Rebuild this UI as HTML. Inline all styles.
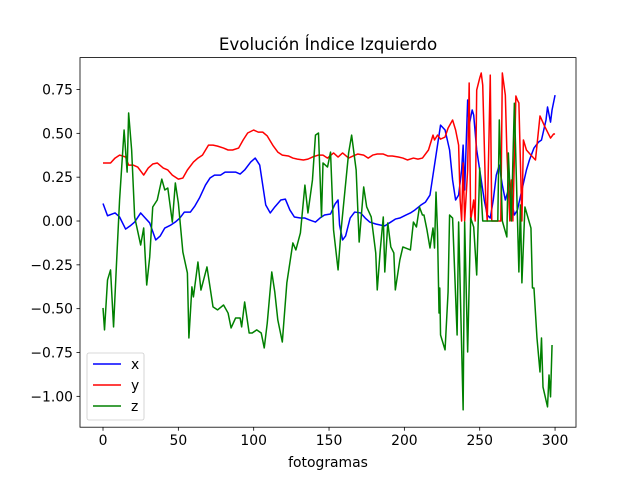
<!DOCTYPE html>
<html><head><meta charset="utf-8"><style>
body{margin:0;background:#fff;}
svg text{font-family:"DejaVu Sans","Liberation Sans",sans-serif;fill:#000;}
</style></head><body>
<svg id="chart" width="640" height="480" xmlns="http://www.w3.org/2000/svg">
<rect width="640" height="480" fill="#fff"/>
<text x="328" y="50" text-anchor="middle" font-size="16.7">Evolución Índice Izquierdo</text>
<g id="plot"></g>
<g id="ticks"></g>
<text x="328" y="467" text-anchor="middle" font-size="13.9">fotogramas</text>
<g id="legend"></g>
</svg>
<script>
const xTicks=[0,50,100,150,200,250,300];
const yTicks=[-1.00,-0.75,-0.50,-0.25,0.00,0.25,0.50,0.75];
const xFrames=[0,3,8,11,15,18,21,25,28,31,35,38,41,45,48,51,54,58,61,64,68,71,74,78,81,84,88,91,94,98,101,104,106,108,111,114,118,121,124,127,131,134,137,141,144,147,151,154,156,157,159,161,164,167,171,174,177,181,184,187,191,194,197,201,204,207,211,214,217,219,221,224,227,230,232,234,236,238,239,240,242,243,245,246,248,251,253,255,257,259,261,263,265,267,269,271,273,275,278,281,283,286,289,291,294,295,297,298,300];
const xValues=[0.10,0.03,0.046,0.023,-0.046,-0.028,-0.006,0.046,0.017,-0.011,-0.108,-0.085,-0.04,-0.023,-0.006,0.017,0.051,0.051,0.086,0.131,0.205,0.245,0.262,0.262,0.279,0.279,0.279,0.268,0.291,0.336,0.359,0.319,0.205,0.091,0.046,0.08,0.12,0.125,0.063,0.023,0.017,0.017,0.006,-0.006,0.017,0.034,0.04,0.097,0.12,-0.023,-0.108,-0.085,0.017,0.051,0.046,0.017,-0.006,-0.017,-0.023,-0.028,-0.006,0.011,0.017,0.034,0.046,0.063,0.091,0.108,0.148,0.262,0.376,0.547,0.519,0.405,0.234,0.12,0.148,0.291,0.433,0.177,0.69,0.547,0.633,0.604,0.405,0.234,0.12,0.034,0.017,0.12,0.262,0.319,0.205,0.12,0.177,0.12,0.034,0.063,0.177,0.291,0.348,0.416,0.45,0.462,0.576,0.65,0.564,0.633,0.718];
const yFrames=[0,5,8,11,15,17,20,23,27,30,33,36,40,43,46,50,53,56,60,63,66,70,73,76,80,83,86,90,93,96,100,103,106,109,113,116,119,123,126,129,133,136,139,143,146,149,153,156,159,163,166,169,173,176,179,182,186,189,192,196,199,202,206,209,212,216,219,220,222,224,227,229,232,234,236,237,238,239,240,242,243,244,246,247,248,250,251,252,254,255,257,258,260,262,264,265,267,268,270,271,272,274,275,276,278,279,281,284,287,290,293,297,299,300];
const yValues=[0.331,0.331,0.359,0.376,0.365,0.319,0.319,0.308,0.262,0.302,0.325,0.331,0.302,0.291,0.262,0.239,0.245,0.291,0.336,0.359,0.376,0.433,0.433,0.427,0.416,0.405,0.405,0.416,0.462,0.502,0.519,0.507,0.507,0.485,0.428,0.393,0.376,0.371,0.359,0.353,0.348,0.353,0.365,0.376,0.376,0.359,0.388,0.365,0.388,0.359,0.371,0.382,0.376,0.359,0.376,0.382,0.382,0.371,0.371,0.365,0.359,0.348,0.359,0.353,0.359,0.405,0.49,0.462,0.49,0.467,0.479,0.53,0.576,0.519,0.433,0.12,0.0,0.331,0.0,0.291,0.787,0.0,0.12,0.0,0.747,0.815,0.844,0.775,0.12,0.0,0.832,0.0,0.0,0.0,0.0,0.844,0.718,0.405,0.0,0.234,0.0,0.713,0.69,0.673,0.0,0.462,0.405,0.376,0.348,0.599,0.542,0.473,0.496,0.496];
const zFrames=[0,1,3,5,7,9,11,14,16,17,19,21,25,27,29,31,33,36,39,41,43,46,48,50,53,56,57,59,60,63,65,69,73,76,80,83,85,88,91,92,94,97,99,102,105,107,109,112,114,116,119,122,126,128,131,134,136,139,141,143,145,146,149,151,153,156,158,163,165,168,170,173,175,178,181,182,184,186,187,189,191,193,194,197,199,204,206,208,210,212,213,215,217,219,220,221,222,223,223.5,224,227,229,230,232,235,236,239,240,242,244,246,248,250,252,262,263,265,268,269,271,273,276,277,278,280,284,285,286,288,290,291,292,295,296,297,298];
const zValues=[-0.496,-0.621,-0.336,-0.279,-0.604,-0.234,0.12,0.519,0.279,0.616,0.405,0.023,-0.137,-0.04,-0.365,-0.205,0.08,0.12,0.239,0.177,0.188,-0.006,0.217,0.103,-0.177,-0.296,-0.667,-0.376,-0.433,-0.234,-0.394,-0.262,-0.49,-0.507,-0.479,-0.525,-0.61,-0.553,-0.553,-0.604,-0.462,-0.639,-0.639,-0.621,-0.639,-0.724,-0.582,-0.291,-0.405,-0.564,-0.69,-0.353,-0.125,-0.165,-0.068,0.205,0.046,0.234,0.49,0.502,0.023,0.331,0.308,0.393,-0.051,-0.279,-0.051,0.388,0.49,0.291,-0.12,0.194,0.08,0.023,-0.182,-0.393,-0.165,0.023,-0.291,-0.011,-0.148,-0.182,-0.393,-0.222,-0.148,-0.165,-0.006,-0.034,0.08,0.034,0.034,-0.051,-0.154,-0.04,-0.154,0.165,-0.063,-0.525,-0.382,-0.65,-0.735,-0.405,0.034,0.017,-0.65,-0.006,-1.077,-0.006,-0.747,0.017,-0.034,-0.308,0.302,0.0,0.0,0.576,0.0,-0.091,0.388,0.0,0.672,-0.291,0.091,-0.353,0.08,-0.04,-0.382,-0.382,-0.667,-0.861,-0.667,-0.947,-1.06,-0.878,-1.003,-0.707];

const L=80,R=576,T=57.6,B=427.2;
const xmin=-15.27,xmax=313.9,ymin=-1.176,ymax=0.932;
const sx=v=>L+(v-xmin)/(xmax-xmin)*(R-L);
const sy=v=>B-(v-ymin)/(ymax-ymin)*(B-T);
const NS="http://www.w3.org/2000/svg";
function mk(tag,attrs,parent){const e=document.createElementNS(NS,tag);for(const k in attrs)e.setAttribute(k,attrs[k]);parent.appendChild(e);return e;}
const plot=document.getElementById('plot'),ticks=document.getElementById('ticks');
const series=[[xFrames,xValues,'#0000ff','series-x'],[yFrames,yValues,'#ff0000','series-y'],[zFrames,zValues,'#008000','series-z']];
series.forEach(s=>{
  const d=s[0].map((f,i)=>(i?'L':'M')+sx(f).toFixed(2)+' '+sy(s[1][i]).toFixed(2)).join(' ');
  const p=mk('path',{d:d,fill:'none',stroke:s[2],'stroke-width':1.5,'stroke-linejoin':'round'},plot);
  
  
});
const frame=mk('rect',{x:L,y:T,width:R-L,height:B-T,fill:'none',stroke:'#000','stroke-width':0.8},ticks);


xTicks.forEach(t=>{
  const x=sx(t);
  mk('line',{x1:x,x2:x,y1:B,y2:B+3.5,stroke:'#000','stroke-width':0.8},ticks);
  const tx=mk('text',{x:x,y:B+18,'text-anchor':'middle','font-size':13.9},ticks);
  tx.textContent=t;
  
  
});
yTicks.forEach(t=>{
  const y=sy(t);
  mk('line',{x1:L-3.5,x2:L,y1:y,y2:y,stroke:'#000','stroke-width':0.8},ticks);
  const tx=mk('text',{x:L-7,y:y+5,'text-anchor':'end','font-size':13.9},ticks);
  tx.textContent=(t<0?'\u2212':'')+Math.abs(t).toFixed(2);
  
  
});
const lg=document.getElementById('legend');
mk('rect',{x:87,y:353,width:57,height:67,rx:2,fill:'#fff','fill-opacity':0.8,stroke:'#ccc','stroke-width':0.8},lg);
[['x','#0000ff'],['y','#ff0000'],['z','#008000']].forEach((e,i)=>{
  const y=364+i*21;
  const ln=mk('line',{x1:93,x2:121,y1:y,y2:y,stroke:e[1],'stroke-width':1.5},lg);
  
  
  const tx=mk('text',{x:131,y:y+5,'font-size':13.9},lg);
  tx.textContent=e[0];
  
  
});
</script>
</body></html>
